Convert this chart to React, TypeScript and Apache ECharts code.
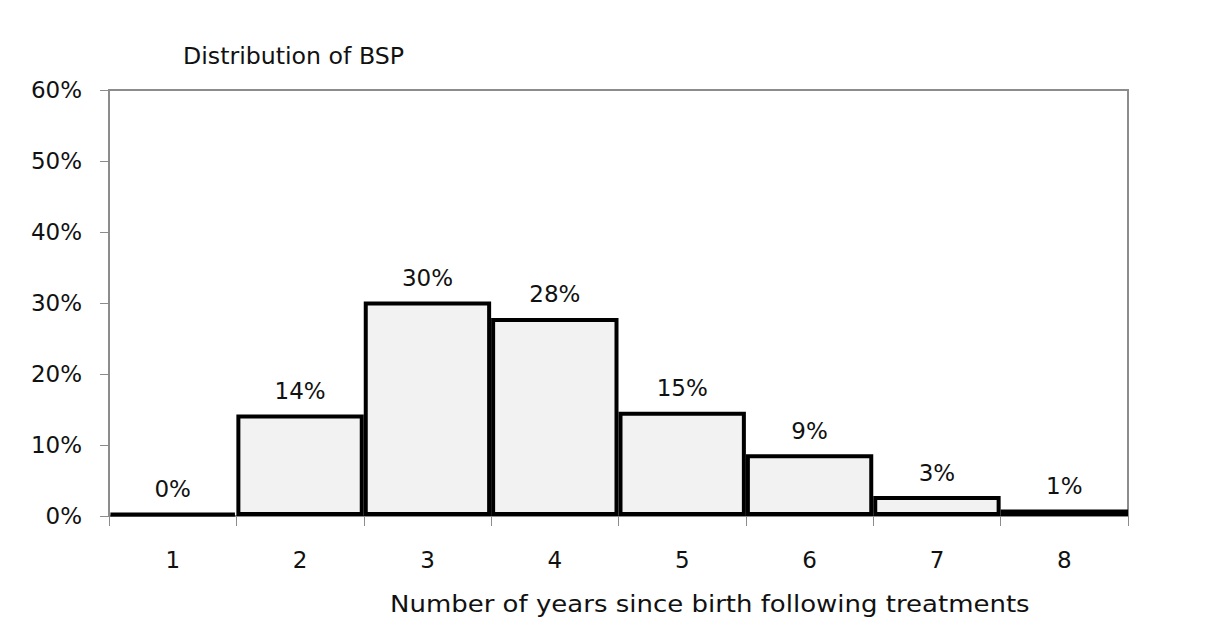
import React, { useEffect, useRef } from "react";
import * as echarts from "echarts";

const categories = ["1", "2", "3", "4", "5", "6", "7", "8"];
const values = [0.4, 14.3, 30.2, 27.9, 14.7, 8.7, 2.8, 0.9];
const titleText = "Distribution of BSP";
const xAxisName = "Number of years since birth following treatments";

const FONT = "Verdana, 'DejaVu Sans', sans-serif";
const FS = 23;

export default function App() {
  const ref = useRef<HTMLDivElement>(null);
  useEffect(() => {
    if (!ref.current) return;
    const chart = echarts.init(ref.current, null, { renderer: "svg" });
    chart.setOption({
      animation: false,
      backgroundColor: "#ffffff",
      textStyle: { fontFamily: FONT },
      grid: {
        left: 109,
        right: 78,
        top: 90,
        bottom: 114,
        show: true,
        borderColor: "#8c8c8c",
        borderWidth: 2,
        backgroundColor: "transparent",
      },
      graphic: [
        {
          type: "text",
          x: 183,
          y: 45,
          scaleX: 1.03,
          style: {
            text: titleText,
            font: `${FS}px ${FONT}`,
            fill: "#111",
            verticalAlign: "top",
            align: "left",
          },
        },
        {
          type: "text",
          x: 390,
          y: 593,
          scaleX: 1.13,
          style: {
            text: xAxisName,
            font: `${FS}px ${FONT}`,
            fill: "#111",
            verticalAlign: "top",
            align: "left",
          },
        },
      ],
      xAxis: {
        type: "category",
        data: categories,
        axisLine: { show: true, lineStyle: { color: "#8c8c8c", width: 2 } },
        axisTick: { show: true, alignWithLabel: false, length: 10, lineStyle: { color: "#8c8c8c" } },
        axisLabel: { color: "#111", fontSize: FS, fontFamily: FONT, margin: 32 },
      },
      yAxis: {
        type: "value",
        min: 0,
        max: 60,
        interval: 10,
        axisLine: { show: true, lineStyle: { color: "#8c8c8c", width: 2 } },
        axisTick: { show: true, length: 9, lineStyle: { color: "#8c8c8c" } },
        splitLine: { show: false },
        axisLabel: {
          color: "#111",
          fontSize: FS,
          fontFamily: FONT,
          margin: 27,
          formatter: (v: number) => `${v}%`,
        },
      },
      series: [
        {
          type: "bar",
          data: values,
          barCategoryGap: "0%",
          itemStyle: { color: "#f2f2f2", borderColor: "#000", borderWidth: 4 },
          label: {
            show: true,
            position: "top",
            distance: 12,
            color: "#111",
            fontSize: FS,
            fontFamily: FONT,
            formatter: (p: any) => `${Math.round(p.value)}%`,
          },
        },
      ],
    });
    return () => chart.dispose();
  }, []);
  return (
    <div
      ref={ref}
      style={{ position: "absolute", left: 0, top: 0, width: 1206, height: 630 }}
    />
  );
}
